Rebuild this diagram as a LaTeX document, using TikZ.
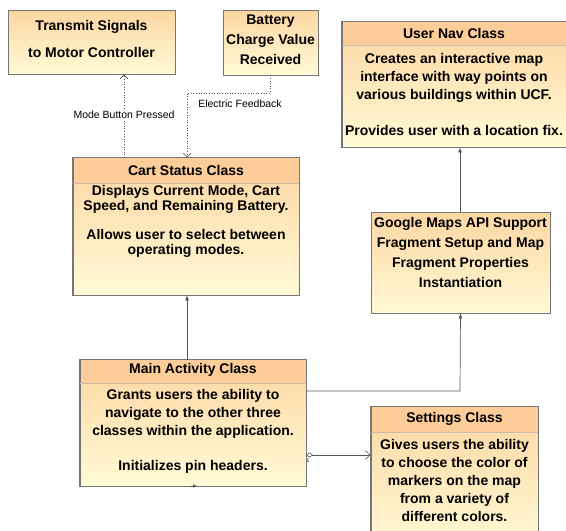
\documentclass[tikz,border=0pt]{standalone}
\usepackage{fontspec}
\setmainfont{Liberation Sans}
\usetikzlibrary{arrows.meta,shadows}
\definecolor{hdr}{RGB}{252,205,152}
\definecolor{btop}{RGB}{253,214,162}
\definecolor{bbot}{RGB}{255,250,214}
\definecolor{edge}{RGB}{118,118,118}
\definecolor{divc}{RGB}{200,188,170}
\definecolor{wire}{RGB}{85,85,85}
\tikzset{
  classbox/.style={draw=edge, line width=0.8pt, top color=btop, bottom color=bbot,
    inner sep=0pt, drop shadow={shadow xshift=1.2pt, shadow yshift=-1.2pt, opacity=0.25}},
  hdrbox/.style={fill=hdr, draw=none, inner sep=0pt},
  rim/.style={draw=edge, line width=0.8pt},
  divider/.style={draw=divc, line width=0.8pt},
  btxt/.style={font=\fontsize{14}{#1}\selectfont\bfseries, align=center, inner sep=0pt},
  lbl/.style={font=\fontsize{10.5}{12}\selectfont, inner sep=1pt},
  dotwire/.style={draw=wire, dotted, line width=0.6pt, -{Straight Barb[length=4pt,width=8pt]}},
  solwire/.style={draw=wire, line width=0.7pt, -{Latex[length=5pt,width=4pt]}},
}
\begin{document}
\begin{tikzpicture}[x=1pt,y=-1pt]
\useasboundingbox (0,0) rectangle (566,531);
\clip (0,0) rectangle (566,531);
% Transmit box
\node[classbox, minimum width=167, minimum height=64] (tx) at (91.5,42) {};
\node[btxt=27pt] (txT) at (91.5,38.5) {Transmit Signals\\to Motor Controller};
% Battery box
\node[classbox, minimum width=95, minimum height=65] (bat) at (270.5,42.5) {};
\node[btxt=20pt] (batT) at (270.5,40) {Battery\\Charge Value\\Received};
% Cart status
\node[classbox, minimum width=226, minimum height=137] (cart) at (186,226.5) {};
\node[hdrbox, minimum width=225, minimum height=25, anchor=north] (cartH) at (cart.north) {};
\draw[divider] (cartH.south west) -- (cartH.south east);
\draw[rim] (cart.south west) rectangle (cart.north east);
\node[btxt=15pt] (cartHT) at (186,170) {Cart Status Class};
\node[btxt=14.75pt] (cartT) at (186,221.5) {Displays Current Mode, Cart\\Speed, and Remaining Battery.\\[14.75pt]Allows user to select between\\operating modes.};
% User nav
\node[classbox, minimum width=224, minimum height=125] (nav) at (454,84.5) {};
\node[hdrbox, minimum width=223, minimum height=23, anchor=north] (navH) at (nav.north) {};
\draw[divider] (navH.south west) -- (navH.south east);
\draw[rim] (nav.south west) rectangle (nav.north east);
\node[btxt=15pt] (navHT) at (454,33) {User Nav Class};
\node[btxt=18pt] (navT) at (454,94) {Creates an interactive map\\interface with way points on\\various buildings within UCF.\\[18pt]Provides user with a location fix.};
% Google maps
\node[classbox, minimum width=179, minimum height=101] (gm) at (460.5,262.5) {};
\node[btxt=20pt] (gmT) at (460.5,252) {Google Maps API Support\\Fragment Setup and Map\\Fragment Properties\\Instantiation};
% Main activity
\node[classbox, minimum width=226, minimum height=126] (main) at (193,423) {};
\node[hdrbox, minimum width=225, minimum height=23, anchor=north] (mainH) at (main.north) {};
\draw[divider] (mainH.south west) -- (mainH.south east);
\draw[rim] (main.south west) rectangle (main.north east);
\node[btxt=15pt] (mainHT) at (193,370) {Main Activity Class};
\node[btxt=17.75pt] (mainT) at (193,431.5) {Grants users the ability to\\navigate to the other three\\classes within the application.\\[17.75pt]Initializes pin headers.};
% Settings
\node[classbox, minimum width=167, minimum height=140] (set) at (454.5,477) {};
\node[hdrbox, minimum width=166, minimum height=25, anchor=north] (setH) at (set.north) {};
\draw[divider] (setH.south west) -- (setH.south east);
\draw[rim] (set.south west) rectangle (set.north east);
\node[btxt=15pt] (setHT) at (454.5,419) {Settings Class};
\node[btxt=18pt] (setT) at (454.5,480) {Gives users the ability\\to choose the color of\\markers on the map\\from a variety of\\different colors.};
% Connectors
\draw[dotwire] (cart.north -| 124,0) -- (tx.south -| 124,0);
\node[lbl, fill=white] (lblMode) at (124,115) {Mode Button Pressed};
\coordinate (e1) at (270,93);
\coordinate (e2) at (187,93);
\draw[dotwire] (bat.south -| e1) -- (e1) -- (e2) -- (cart.north -| e2);
\node[lbl] (lblElec) at (240,104) {Electric Feedback};
\draw[solwire] (main.north -| 187,0) -- (cart.south -| 187,0);
\coordinate (g1) at (460,391);
\draw[solwire] (main.east |- g1) -- (g1) -- (gm.south);
\draw[solwire] (gm.north -| 460,0) -- (nav.south -| 460,0);
\coordinate (d1) at (306,455);
\draw[draw=wire, line width=0.6pt, {Diamond[open,length=7pt,width=5pt]}-{Straight Barb[length=5pt,width=9pt]}] (d1) -- (set.west |- d1);
\node[font=\fontsize{5}{5}\selectfont, inner sep=0pt] (one) at (308,461) {1};
\coordinate (s1) at (190,486);
\coordinate (s2) at (197,486);
\draw[wire, line width=0.5pt, -{Latex[length=4pt,width=3.5pt]}] (s1) -- (s2);
\end{tikzpicture}
\end{document}
